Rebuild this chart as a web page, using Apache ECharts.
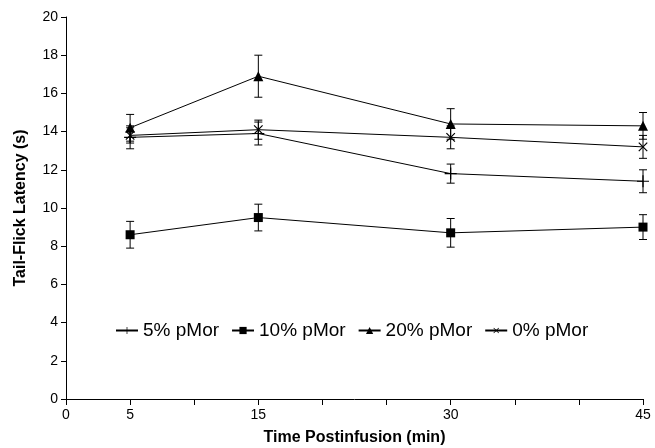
<!DOCTYPE html>
<html>
<head>
    <meta charset="utf-8">
    <title>Tail-Flick Latency</title>
    <script src="https://cdn.jsdelivr.net/npm/echarts@6/dist/echarts.min.js"></script>
</head>
<body style="margin:0">
    <div id="main" style="width: 655px;height:448px;"></div>
    <script>
        // time points (min)
        var times = [5, 15, 30, 45];
        var shownTicks = [0, 5, 15, 30, 45];

        var names = ['5% pMor', '10% pMor', '20% pMor', '0% pMor'];
        var mean5 = [13.7, 13.9, 11.8, 11.4];
        var err5 = [0.6, 0.6, 0.5, 0.6];
        var mean10 = [8.6, 9.5, 8.7, 9.0];
        var err10 = [0.7, 0.7, 0.75, 0.65];
        var mean20 = [14.2, 16.9, 14.4, 14.3];
        var err20 = [0.7, 1.1, 0.8, 0.7];
        var mean0 = [13.8, 14.1, 13.7, 13.2];
        var err0 = [0.4, 0.5, 0.6, 0.6];

        var plusPath = 'path://M4.5,0h1v10h-1z M0,4.5h10v1h-10z';
        var symbols = [plusPath, 'rect', 'triangle', plusPath];
        var sizes = [12, 9, 10, 12];
        var rotates = [0, 0, 0, 45];
        var means = [mean5, mean10, mean20, mean0];
        var errs = [err5, err10, err20, err0];

        var chartDom = document.getElementById('main');
        var myChart = echarts.init(chartDom);

        function errorBar(params, api) {
            var x = api.value(0);
            var lo = api.coord([x, api.value(1)]);
            var hi = api.coord([x, api.value(2)]);
            var w = 4;
            var st = { stroke: '#000', lineWidth: 1 };
            return {
                type: 'group',
                children: [
                    { type: 'line', shape: { x1: lo[0], y1: lo[1], x2: hi[0], y2: hi[1] }, style: st },
                    { type: 'line', shape: { x1: lo[0] - w, y1: lo[1], x2: lo[0] + w, y2: lo[1] }, style: st },
                    { type: 'line', shape: { x1: hi[0] - w, y1: hi[1], x2: hi[0] + w, y2: hi[1] }, style: st }
                ]
            };
        }

        var series = [];
        names.forEach(function (n, i) {
            series.push({
                name: n + ' err',
                type: 'custom',
                renderItem: errorBar,
                silent: true,
                itemStyle: { color: '#000' },
                data: times.map(function (t, k) {
                    return [t, means[i][k] - errs[i][k], means[i][k] + errs[i][k]];
                }),
                z: 1
            });
        });
        names.forEach(function (n, i) {
            series.push({
                name: n,
                type: 'line',
                data: times.map(function (t, k) { return [t, means[i][k]]; }),
                symbol: symbols[i],
                symbolSize: sizes[i],
                symbolRotate: rotates[i],
                showAllSymbol: true,
                lineStyle: { color: '#000', width: 1 },
                itemStyle: { color: '#000' },
                z: 3
            });
        });

        var option = {
            animation: false,
            grid: {
                left: 66, right: 12, top: 17, bottom: 49,
                containLabel: false,
                outerBoundsMode: 'none'
            },
            legend: {
                data: names,
                top: 316,
                left: 110,
                itemWidth: 22,
                itemHeight: 9,
                itemGap: 12,
                textStyle: { fontFamily: 'Liberation Sans', fontSize: 19, color: '#000' }
            },
            xAxis: {
                type: 'value',
                min: 0,
                max: 45,
                interval: 5,
                name: 'Time Postinfusion (min)',
                nameLocation: 'middle',
                nameGap: 31,
                nameTextStyle: { fontFamily: 'Liberation Sans', fontWeight: 'bold', fontSize: 16, color: '#000' },
                axisLine: { lineStyle: { color: '#000', width: 1 } },
                axisTick: { inside: false, length: 6, lineStyle: { color: '#000' } },
                axisLabel: {
                    margin: 9,
                    fontFamily: 'Liberation Sans',
                    fontSize: 14,
                    color: '#000',
                    formatter: function (v) {
                        return shownTicks.indexOf(v) >= 0 ? String(v) : '';
                    }
                },
                splitLine: { show: false }
            },
            yAxis: {
                type: 'value',
                min: 0,
                max: 20,
                interval: 2,
                name: 'Tail-Flick Latency (s)',
                nameLocation: 'middle',
                nameGap: 37,
                nameTextStyle: { fontFamily: 'Liberation Sans', fontWeight: 'bold', fontSize: 16, color: '#000' },
                axisLine: { show: true, lineStyle: { color: '#000', width: 1 } },
                axisTick: { show: true, length: 5, lineStyle: { color: '#000' } },
                axisLabel: { margin: 8, fontFamily: 'Liberation Sans', fontSize: 14, color: '#000' },
                splitLine: { show: false }
            },
            series: series
        };

        myChart.setOption(option);
    </script>
</body>
</html>
